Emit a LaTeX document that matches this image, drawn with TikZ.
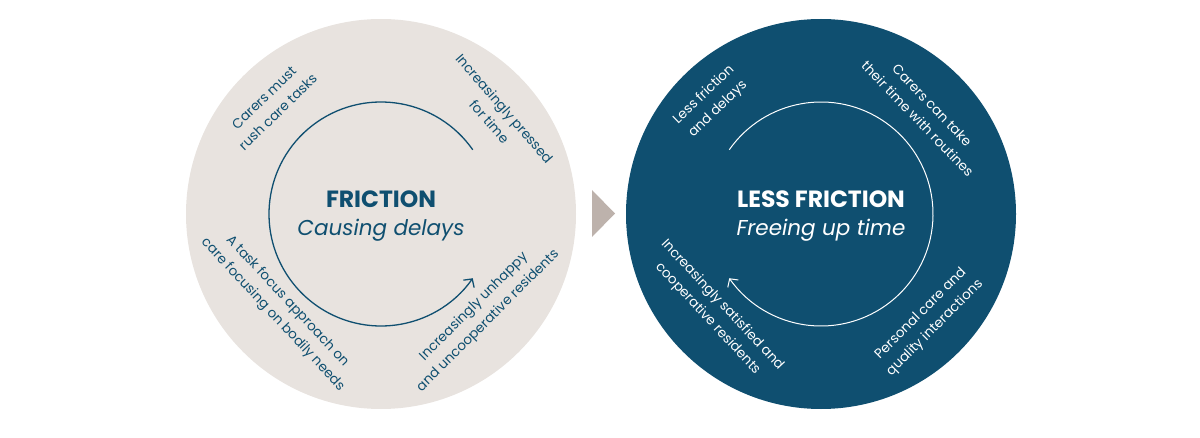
\documentclass[tikz,border=0pt]{standalone}
\usepackage{fontspec}
\setmainfont{Poppins}
\usetikzlibrary{arrows.meta}
\definecolor{navy}{HTML}{0F4F70}
\definecolor{sand}{HTML}{E8E3DF}
\definecolor{taupe}{HTML}{BDB2AC}

\begin{document}
\begin{tikzpicture}[x=1pt, y=1pt,
  disc/.style={circle, minimum size=390pt, inner sep=0pt},
  lbl/.style={align=center, font=\fontsize{13.5}{20}\selectfont},
  ttl/.style={align=center, font=\fontsize{21.5}{28}\selectfont},
  cyc/.style={line width=1.3pt, -{Straight Barb[length=6pt, width=13pt]}}
]
\useasboundingbox (0,0) rectangle (1200,437);

% two cycles
\node[disc, fill=sand] (lc) at (381,223) {};
\node[disc, fill=navy] (rc) at (821,223) {};
\fill[taupe] (592,247) -- (615,223.5) -- (592,200) -- cycle;

\node[ttl, text=navy] (fric) at ([yshift=-2pt]lc.center)
  {{\fontsize{23.5}{28}\selectfont\bfseries FRICTION}\\\itshape Causing delays};
\node[ttl, text=white] (less) at ([yshift=-2pt]rc.center)
  {{\fontsize{23.5}{28}\selectfont\bfseries LESS FRICTION}\\\itshape Freeing up time};

\draw[cyc, navy] ([shift={(35:112)}]lc.center) arc[start angle=35, end angle=325, radius=112];
\draw[cyc, white, line width=1pt] ([shift={(145:112)}]rc.center) arc[start angle=145, end angle=-145, radius=112];

% left labels
\node[lbl, text=navy, rotate=44]  (rush)  at (271,332) {Carers must\\rush care tasks};
\node[lbl, text=navy, rotate=-49] (press) at (497,322) {Increasingly pressed\\for time};
\node[lbl, text=navy, rotate=-47] (task)  at (280,129) {A task focus approach on\\care focusing on bodily needs};
\node[lbl, text=navy, rotate=45]  (unhap) at (481,123) {Increasingly unhappy\\and uncooperative residents};

% right labels
\node[lbl, text=white, rotate=44]  (delay) at (711,335) {Less friction\\and delays};
\node[lbl, text=white, rotate=-46] (take)  at (925,325) {Carers can take\\their time with routines};
\node[lbl, text=white, rotate=-47] (satis) at (715,125) {Increasingly satisfied and\\cooperative residents};
\node[lbl, text=white, rotate=45]  (pers)  at (928,116) {Personal care and\\quality interactions};
\end{tikzpicture}
\end{document}
